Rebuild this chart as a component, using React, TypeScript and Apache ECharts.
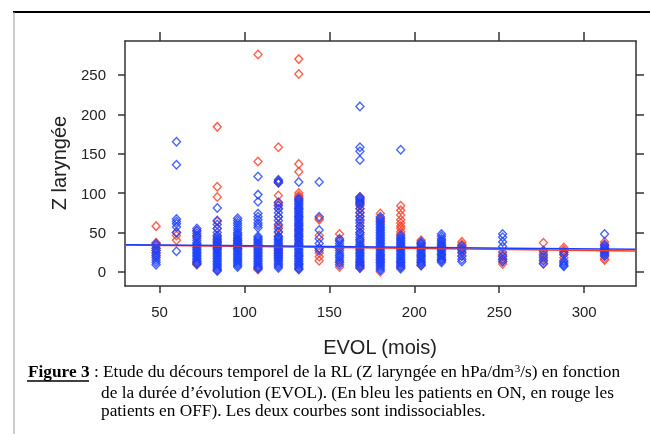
import React, { useEffect, useRef } from "react";
import * as echarts from "echarts";

// EVOL (mois) columns
const EVOL = [48, 60, 72, 84, 96, 108, 120, 132, 144, 156, 168, 180, 192, 204, 216, 228, 252, 276, 288, 312];

// Z laryngée, patients en ON (bleu), one list per EVOL column
const ON_Z: number[][] = [
  [36, 33, 30, 27, 24, 21, 18, 15, 12, 9],
  [165, 136, 67, 64, 61, 57, 50, 26],
  [55, 52, 49, 46, 43, 40, 37, 35, 33, 31, 29, 27, 25, 23, 21, 19, 17, 15, 13, 11, 10],
  [81, 65, 60, 55, 50, 46, 43, 41, 39, 37, 35, 33, 31, 29, 27, 25, 23, 21, 19, 17, 15, 13, 11, 9, 7, 5, 3, 1],
  [68, 65, 62, 59, 56, 53, 50, 48, 46, 44, 42, 40, 38, 36, 34, 32, 30, 28, 26, 24, 22, 20, 18, 16, 14, 12, 10, 8, 6],
  [121, 98, 89, 74, 70, 66, 62, 59, 56, 45, 43, 41, 39, 37, 35, 33, 31, 29, 27, 25, 23, 21, 19, 17, 15, 13, 11, 9, 7, 5, 4],
  [117, 115, 113, 88, 84, 80, 75, 70, 65, 60, 55, 51, 45, 43, 41, 39, 37, 35, 33, 31, 29, 27, 25, 23, 21, 19, 17, 15, 13, 11, 9, 7, 5],
  [114, 93, 91, 89, 87, 85, 83, 81, 79, 77, 75, 73, 71, 69, 67, 65, 63, 61, 59, 57, 55, 53, 51, 49, 47, 45, 43, 41, 39, 37, 35, 33, 31, 29, 27, 25, 23, 21, 19, 17, 15, 13, 11, 9, 7, 5, 3],
  [114, 70, 53, 42, 36, 30, 27],
  [42, 39, 36, 33, 30, 27, 24, 21, 18, 15, 12, 9],
  [210, 158, 153, 142, 95, 93, 91, 89, 87, 85, 80, 75, 70, 66, 62, 58, 54, 50, 47, 44, 41, 38, 35, 33, 31, 29, 27, 25, 23, 21, 19, 17, 15, 13, 11, 9, 7, 5],
  [70, 67, 64, 62, 60, 58, 56, 54, 52, 50, 48, 46, 44, 42, 40, 38, 36, 34, 32, 30, 28, 26, 24, 22, 20, 18, 16, 14, 12, 10, 8, 6, 4, 2],
  [155, 46, 44, 42, 40, 38, 36, 34, 32, 30, 28, 26, 24, 22, 20, 18, 16, 14, 12, 10, 8, 6, 4],
  [38, 36, 34, 32, 30, 28, 26, 24, 22, 20, 18, 16, 14, 12, 10, 8],
  [48, 45, 42, 40, 38, 36, 34, 32, 30, 28, 26, 24, 22, 20, 18, 16, 14, 12],
  [33, 30, 28, 25, 20, 16, 13],
  [48, 44, 38, 32, 25, 20, 16, 13],
  [27, 22, 18, 14, 11],
  [25, 22, 14, 12, 10, 8, 7],
  [48, 34, 32, 30, 28, 26, 24, 22, 20],
];

// Z laryngée, patients en OFF (rouge)
const OFF_Z: number[][] = [
  [58, 37, 34, 30, 27, 24, 20],
  [50, 46, 40],
  [52, 45, 12, 9],
  [184, 108, 95, 64, 55, 45, 38, 30, 2],
  [40, 36, 30],
  [276, 140, 6, 3],
  [158, 115, 113, 97, 88, 85, 80, 70, 58, 50, 45, 30, 27, 24, 21, 18],
  [270, 251, 137, 127, 100, 97, 95, 92, 80, 70, 59, 53, 45, 35, 20, 10, 4],
  [68, 66, 46, 30, 24, 19, 14],
  [48, 40, 30, 20, 12, 6],
  [95, 92, 88, 84, 80, 75, 71, 65, 58, 50, 40, 12, 8, 5],
  [74, 68, 65, 20, 16, 12, 0],
  [84, 78, 72, 66, 62, 58, 55, 51, 48, 12, 6],
  [40, 36, 30, 20, 12, 8],
  [33, 28, 22, 15],
  [38, 35, 32, 28, 24, 20],
  [22, 19, 16, 13, 10],
  [37, 25, 20, 15, 10],
  [31, 28, 25, 22, 18],
  [38, 35, 30, 25, 20, 17, 15],
];

// Fitted curves (ends)
const FIT_X = [30, 330];
const FIT_ON = [34.5, 28.5];
const FIT_OFF = [34, 26.5];

const TICKS_X = [50, 100, 150, 200, 250, 300];
const TICKS_Y = [0, 50, 100, 150, 200, 250];

const BLUE = "#1a40ff";
const RED = "#ff3b22";
const AXIS = "#333333";

export default function App() {
  const ref = useRef<HTMLDivElement>(null);
  useEffect(() => {
    if (!ref.current) return;
    const chart = echarts.init(ref.current, null, { renderer: "svg" });
    const onData = EVOL.flatMap((x, i) => ON_Z[i].map((y) => [x, y]));
    const offData = EVOL.flatMap((x, i) => OFF_Z[i].map((y) => [x, y]));
    const sans = "Liberation Sans, Arial, sans-serif";
    const serif = "Liberation Serif, Times New Roman, serif";
    const axisLine = { show: true, onZero: false, lineStyle: { color: AXIS, width: 1.5 } };
    const xBase = { type: "value" as const, min: 29.7, max: 330.5, splitLine: { show: false } };
    const yBase = { type: "value" as const, min: -18, max: 293, splitLine: { show: false } };
    chart.setOption({
      animation: false,
      grid: { left: 125, right: 14, top: 41, bottom: 148 },
      xAxis: [
        {
          ...xBase,
          position: "bottom",
          axisLine,
          axisTick: { show: true, length: 7, customValues: TICKS_X, lineStyle: { color: AXIS, width: 1.5 } },
          axisLabel: { customValues: TICKS_X, margin: 18, fontSize: 15, color: "#222", fontFamily: sans },
        },
        {
          ...xBase,
          position: "top",
          axisLine,
          axisTick: { show: true, length: 9, customValues: TICKS_X, lineStyle: { color: AXIS, width: 1.5 } },
          axisLabel: { show: false },
        },
      ],
      yAxis: [
        {
          ...yBase,
          position: "left",
          axisLine,
          axisTick: { show: true, length: 7, customValues: TICKS_Y, lineStyle: { color: AXIS, width: 1.5 } },
          axisLabel: { customValues: TICKS_Y, margin: 19, fontSize: 15, color: "#222", fontFamily: sans },
        },
        {
          ...yBase,
          position: "right",
          axisLine,
          axisTick: { show: true, length: 8, customValues: TICKS_Y, lineStyle: { color: AXIS, width: 1.5 } },
          axisLabel: { show: false },
        },
      ],
      series: [
        {
          type: "scatter",
          data: offData,
          symbol: "diamond",
          symbolSize: [8, 8.5],
          itemStyle: { color: "rgba(0,0,0,0)", borderColor: RED, borderWidth: 1.4 },
        },
        {
          type: "scatter",
          data: onData,
          symbol: "diamond",
          symbolSize: [8, 8.5],
          itemStyle: { color: "rgba(0,0,0,0)", borderColor: BLUE, borderWidth: 1.4 },
        },
        {
          type: "line",
          data: FIT_X.map((x, i) => [x, FIT_OFF[i]]),
          symbol: "none",
          lineStyle: { color: RED, width: 1.5 },
        },
        {
          type: "line",
          data: FIT_X.map((x, i) => [x, FIT_ON[i]]),
          symbol: "none",
          lineStyle: { color: BLUE, width: 1.5 },
        },
      ],
      graphic: [
        { type: "line", shape: { x1: 13, y1: 12, x2: 650, y2: 12 }, style: { stroke: "#000", lineWidth: 2 } },
        { type: "line", shape: { x1: 14, y1: 12, x2: 14, y2: 434 }, style: { stroke: "#999", lineWidth: 1 } },
        {
          type: "text",
          x: 59,
          y: 163,
          rotation: Math.PI / 2,
          style: {
            text: "Z laryngée",
            fontSize: 20,
            fontFamily: sans,
            fill: "#222",
            textAlign: "center",
            textVerticalAlign: "middle",
          },
        },
        {
          type: "text",
          x: 380,
          y: 347,
          style: {
            text: "EVOL (mois)",
            fontSize: 20,
            fontFamily: sans,
            fill: "#222",
            textAlign: "center",
            textVerticalAlign: "middle",
          },
        },
        {
          type: "text",
          x: 28,
          y: 371,
          style: {
            text: "{b|Figure 3} : Etude du décours temporel de la RL (Z laryngée en hPa/dm{sup|3}/s) en fonction",
            fontSize: 17.3,
            fontFamily: serif,
            fill: "#000",
            textVerticalAlign: "middle",
            rich: {
              b: { fontSize: 17.3, fontFamily: serif, fontWeight: "bold", fill: "#000" },
              sup: { fontSize: 11, fontFamily: serif, fill: "#000", verticalAlign: "top" },
            },
          },
        },
        { type: "line", shape: { x1: 27, y1: 381, x2: 89, y2: 381 }, style: { stroke: "#000", lineWidth: 1.5 } },
        {
          type: "text",
          x: 101,
          y: 392,
          style: {
            text: "de la durée d’évolution (EVOL). (En bleu les patients en ON, en rouge les",
            fontSize: 17.3,
            fontFamily: serif,
            fill: "#000",
            textVerticalAlign: "middle",
          },
        },
        {
          type: "text",
          x: 101,
          y: 410,
          style: {
            text: "patients en OFF). Les deux courbes sont indissociables.",
            fontSize: 17.3,
            fontFamily: serif,
            fill: "#000",
            textVerticalAlign: "middle",
          },
        },
      ],
    });
    return () => chart.dispose();
  }, []);
  return <div ref={ref} style={{ position: "fixed", left: 0, top: 0, width: 650, height: 434 }} />;
}
